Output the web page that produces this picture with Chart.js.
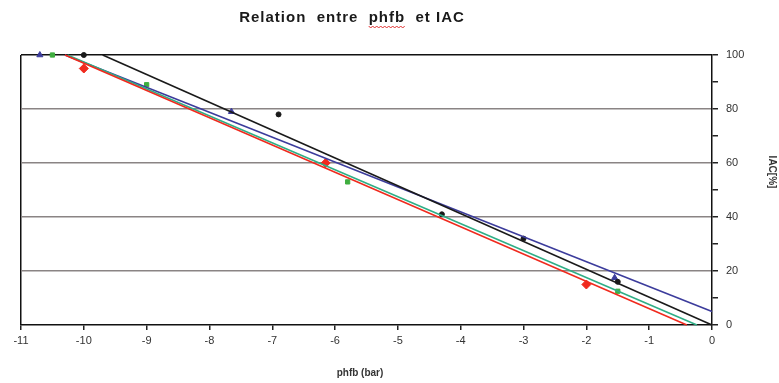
<!DOCTYPE html>
<html>
<head>
<meta charset="utf-8">
<script src="https://cdn.jsdelivr.net/npm/chart.js@4/dist/chart.umd.min.js"></script>
<style>
html,body{margin:0;padding:0;background:#fff;}
#wrap{width:779px;height:383px;position:relative;}
</style>
</head>
<body>
<div id="wrap"><canvas id="c" width="779" height="383"></canvas></div>
<script>
// ---- data ----
const chartTitle = "Relation  entre  phfb  et IAC";
const xTitle = "phfb (bar)";
const yTitle = "IAC[%]";

const blackX = [-10, -6.9, -4.3, -3.0, -1.5];
const blackY = [100, 78, 41, 32, 16];
const blueX  = [-10.7, -7.65, -1.55];
const blueY  = [100, 79, 17.5];
const greenX = [-10.5, -9.0, -5.8, -1.5];
const greenY = [100, 89, 53, 12.5];
const redX   = [-10.0, -6.15, -2.0];
const redY   = [95, 60, 15];

// trend lines (end points)
const blackLineX = [-9.7, 0];   const blackLineY = [100, 0];
const blueLineX  = [-10.3, 0];  const blueLineY  = [100, 5];
const greenLineX = [-10.26, -0.24]; const greenLineY = [100, 0];
const redLineX   = [-10.3, -0.4];   const redLineY   = [100, 0];

const xMin = -11, xMax = 0;
const yMin = 0, yMax = 100;

function pts(xs, ys){ return xs.map((x,i)=>({x:x, y:ys[i]})); }

const C_BLACK = '#1a1a1a', C_BLUE = '#3c3c9c', C_GREEN = '#2fae86', C_RED = '#f02a1e';
const P_GREEN = '#3fae3f';
const FONT = '"Liberation Sans", Arial, sans-serif';

const titlePlugin = {
  id: 'mainTitle',
  afterDraw(chart){
    const ctx = chart.ctx;
    ctx.save();
    ctx.font = 'bold 15px ' + FONT;
    try { ctx.letterSpacing = '1px'; } catch(e) {}
    ctx.fillStyle = '#1a1a1a';
    ctx.textBaseline = 'middle';
    const w = ctx.measureText(chartTitle).width;
    const cx = 352, cy = 18;
    const x0 = cx - w/2;
    ctx.fillText(chartTitle, x0, cy);
    // red spell-check wave under "phfb"
    const pre = chartTitle.indexOf('phfb');
    const sx = x0 + ctx.measureText(chartTitle.slice(0, pre)).width;
    const ww = ctx.measureText('phfb').width;
    ctx.strokeStyle = '#e03030';
    ctx.lineWidth = 1;
    ctx.beginPath();
    for (let i = 0; i <= ww; i += 2) {
      const yy = cy + 9 + ((i/2) % 2 ? 1 : -1);
      if (i === 0) ctx.moveTo(sx + i, yy); else ctx.lineTo(sx + i, yy);
    }
    ctx.stroke();
    ctx.restore();
    // y-axis title, rotated, reading top to bottom
    ctx.save();
    ctx.font = 'bold 10px ' + FONT;
    ctx.fillStyle = '#333';
    ctx.textAlign = 'center';
    ctx.translate(769, 172);
    ctx.rotate(Math.PI / 2);
    ctx.fillText(yTitle, 0, 0);
    ctx.restore();
    // x-axis title
    ctx.save();
    ctx.font = 'bold 10px ' + FONT;
    ctx.fillStyle = '#333';
    ctx.textAlign = 'center';
    ctx.textBaseline = 'middle';
    ctx.fillText(xTitle, 360, 373);
    ctx.restore();
  }
};

new Chart(document.getElementById('c'), {
  type: 'scatter',
  data: {
    datasets: [
      {label:'blackLine', type:'line', data: pts(blackLineX, blackLineY), borderColor:C_BLACK, borderWidth:1.6, pointRadius:0, fill:false, clip:false},
      {label:'redLine', type:'line', data: pts(redLineX, redLineY), borderColor:C_RED, borderWidth:1.6, pointRadius:0, fill:false, clip:false},
      {label:'greenLine', type:'line', data: pts(greenLineX, greenLineY), borderColor:C_GREEN, borderWidth:1.6, pointRadius:0, fill:false, clip:false},
      {label:'blueLine', type:'line', data: pts(blueLineX, blueLineY), borderColor:C_BLUE, borderWidth:1.6, pointRadius:0, fill:false, clip:false},
      {label:'black', data: pts(blackX, blackY), pointStyle:'circle', pointRadius:2.5, backgroundColor:C_BLACK, borderColor:C_BLACK, clip:false},
      {label:'blue', data: pts(blueX, blueY), pointStyle:'triangle', pointRadius:3.5, backgroundColor:C_BLUE, borderColor:C_BLUE, clip:false},
      {label:'green', data: pts(greenX, greenY), pointStyle:'rect', pointRadius:3, backgroundColor:P_GREEN, borderColor:P_GREEN, clip:false},
      {label:'red', data: pts(redX, redY), pointStyle:'rectRot', pointRadius:4.5, backgroundColor:C_RED, borderColor:C_RED, clip:false}
    ]
  },
  options: {
    responsive: false,
    animation: false,
    layout: { padding: { left: 21, top: 55, right: 0, bottom: 0 } },
    plugins: { legend: { display:false }, tooltip: { enabled:false }, title: { display:false } },
    scales: {
      x: {
        type: 'linear', min: xMin, max: xMax,
        position: 'bottom',
        afterFit(s){ s.height = 58; },
        ticks: { stepSize: 1, color:'#333', font:{ family:FONT, size:11 }, padding: 4, maxRotation:0 },
        grid: {
          color: c => (c.tick && c.tick.value === xMin) ? '#111' : 'rgba(0,0,0,0)',
          tickColor: '#222', tickLength: 5, lineWidth: 1.5
        },
        border: { color:'#111', width:1.5 },
        title: { display:false, text:xTitle }
      },
      y: {
        type: 'linear', min: yMin, max: yMax,
        position: 'right',
        afterFit(s){ s.width = 67; },
        ticks: {
          stepSize: 10, color:'#333', font:{ family:FONT, size:11 }, padding: 8,
          callback: v => (v % 20 === 0 ? v : '')
        },
        grid: {
          color: c => {
            if (!c.tick) return 'rgba(0,0,0,0)';
            const v = c.tick.value;
            if (v === yMax) return '#111';
            if (v % 20 === 0 && v !== yMin) return '#8a8484';
            return 'rgba(0,0,0,0)';
          },
          tickColor: '#222', tickLength: 6, lineWidth: 1.5
        },
        border: { color:'#111', width:1.5 },
        title: { display:false, text:yTitle }
      }
    }
  },
  plugins: [titlePlugin]
});
</script>
</body>
</html>
